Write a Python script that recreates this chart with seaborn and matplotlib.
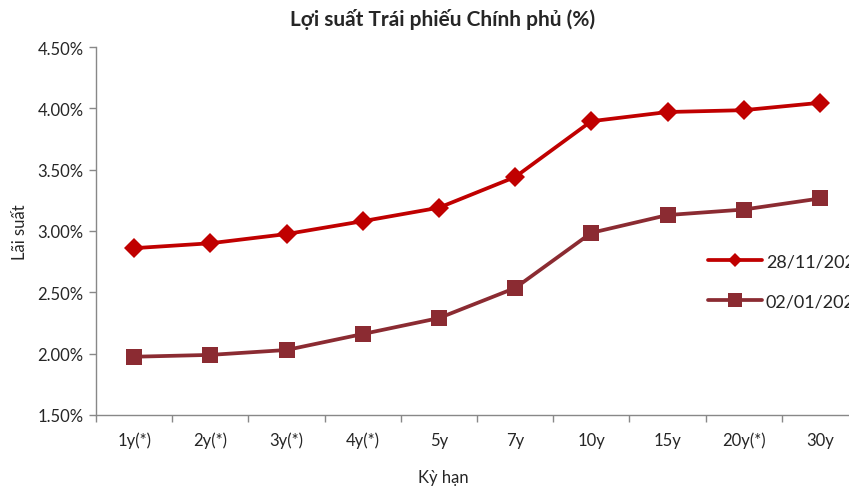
import pandas as pd
import numpy as np
import matplotlib
matplotlib.use('Agg')
import matplotlib.pyplot as plt
import seaborn as sns
from matplotlib.ticker import FuncFormatter, FixedLocator
from matplotlib.lines import Line2D

# Data
ky_han = ['1y(*)', '2y(*)', '3y(*)', '4y(*)', '5y', '7y', '10y', '15y', '20y(*)', '30y']
ls_2811 = [2.86, 2.90, 2.975, 3.08, 3.19, 3.44, 3.895, 3.97, 3.985, 4.045]
ls_0201 = [1.975, 1.99, 2.03, 2.16, 2.29, 2.535, 2.985, 3.13, 3.175, 3.265]
series_names = ['28/11/2025', '02/01/2025']
colors = ['#C00000', '#8B2B32']

df = pd.DataFrame({
    'pos': list(range(len(ky_han))) * 2,
    'Lãi suất': ls_2811 + ls_0201,
    'series': [series_names[0]] * len(ky_han) + [series_names[1]] * len(ky_han),
})

sns.set_style('white')
plt.rcParams['font.family'] = ['Lato', 'DejaVu Sans']

fig = plt.figure(figsize=(8.49, 4.89), dpi=100)
# axes runs past the right edge, like the cropped original
ax = fig.add_axes([96 / 849, 73 / 489, 762 / 849, 368 / 489])

sns.lineplot(data=df, x='pos', y='Lãi suất', hue='series', style='series',
             palette=dict(zip(series_names, colors)),
             markers={series_names[0]: 'D', series_names[1]: 's'},
             dashes=False, linewidth=2.7, markeredgewidth=0,
             ax=ax, legend=False)
for line, ms in zip(ax.lines, [10, 12]):
    line.set_markersize(ms)

ax.set_xlim(-0.5, len(ky_han) - 0.5)
ax.set_ylim(1.5, 4.5)
ax.set_yticks(np.arange(1.5, 4.51, 0.5))
ax.yaxis.set_major_formatter(FuncFormatter(lambda v, p: f'{v:.2f}%'))
ax.set_xticks(range(len(ky_han)))
ax.set_xticklabels(ky_han)
ax.xaxis.set_minor_locator(FixedLocator(np.arange(-0.5, len(ky_han), 1.0)))
ax.tick_params(axis='x', which='major', length=0, pad=12, labelsize=12)
ax.tick_params(axis='x', which='minor', length=5, color='#888888', width=1)
ax.tick_params(axis='y', length=5, color='#888888', width=1, labelsize=12, pad=4)
ax.tick_params(axis='both', direction='out', bottom=True, left=True, which='both')
for s in ['top', 'right']:
    ax.spines[s].set_visible(False)
for s in ['left', 'bottom']:
    ax.spines[s].set_color('#888888')
    ax.spines[s].set_linewidth(1)
ax.set_xlabel('')
ax.set_ylabel('')

fig.text(443 / 849, 1 - 20 / 489, 'Lợi suất Trái phiếu Chính phủ (%)', ha='center', va='center',
         fontsize=15, fontweight='bold')
fig.text(20 / 849, 1 - 232 / 489, 'Lãi suất', ha='center', va='center', rotation=90, fontsize=12)
fig.text(443 / 849, 1 - 478 / 489, 'Kỳ hạn', ha='center', va='center', fontsize=12)

handles = [Line2D([], [], color=colors[0], marker='D', markersize=7, linewidth=2.7, markeredgewidth=0),
           Line2D([], [], color=colors[1], marker='s', markersize=10, linewidth=2.7, markeredgewidth=0)]
fig.legend(handles, series_names, loc='upper left', bbox_to_anchor=(708 / 849, 1 - 254 / 489),
           frameon=False, fontsize=13, handlelength=3.0, handletextpad=0.2, labelspacing=1.35,
           borderaxespad=0, borderpad=0)

fig.savefig('out.png', dpi=100)
